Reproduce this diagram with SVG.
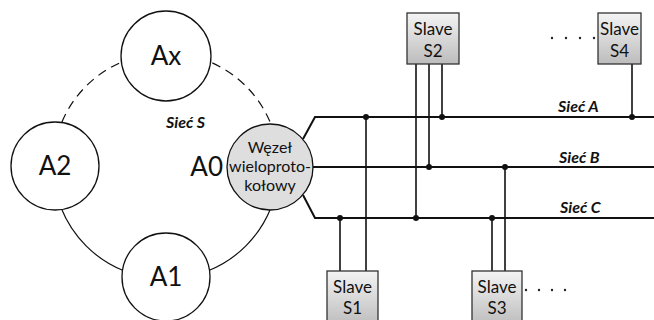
<svg xmlns="http://www.w3.org/2000/svg" width="654" height="320" viewBox="0 0 654 320">
  <defs>
    <linearGradient id="boxFill" x1="0" y1="0" x2="0" y2="1">
      <stop offset="0" stop-color="#f4f4f4"/>
      <stop offset="1" stop-color="#bcbcbc"/>
    </linearGradient>
  </defs>
  <style>
    text { font-family: Lato, "Liberation Sans", sans-serif; fill: #111; }
    .node { fill: #fff; stroke: #111; stroke-width: 1.3; }
    .hub { fill: #dedede; stroke: #111; stroke-width: 1.3; }
    .big { font-size: 26px; text-anchor: middle; }
    .hubtxt { font-size: 16px; text-anchor: middle; }
    .net { font-size: 16px; font-weight: bold; font-style: italic; }
    .box { fill: url(#boxFill); stroke: #333; stroke-width: 1.3; }
    .slave { font-size: 17px; text-anchor: middle; }
    .bus { fill: none; stroke: #111; stroke-width: 2; }
    .tap { fill: none; stroke: #111; stroke-width: 1.6; }
    .ring { fill: none; stroke: #111; stroke-width: 1.2; }
    .dot { fill: #111; }
    .ell { fill: #222; }
  </style>

  <!-- ring network S and bus connections -->
  <g id="connectors">
    <path class="ring" stroke-dasharray="9 6" d="M 53 166 A 113 113 0 0 1 279 166"/>
    <path class="ring" d="M 53 166 A 113 113 0 0 0 279 166"/>

    <!-- buses A, B, C leaving the gateway -->
    <polyline class="bus" points="303,139 315,117 654,117"/>
    <polyline class="bus" points="312,167 654,167"/>
    <polyline class="bus" points="303,195 315,218 654,218"/>

    <!-- slave taps -->
    <line class="tap" x1="366" y1="117" x2="366" y2="271"/>
    <line class="tap" x1="340" y1="218" x2="340" y2="271"/>
    <line class="tap" x1="416" y1="64" x2="416" y2="218"/>
    <line class="tap" x1="429" y1="64" x2="429" y2="167"/>
    <line class="tap" x1="442" y1="64" x2="442" y2="117"/>
    <line class="tap" x1="632" y1="64" x2="632" y2="117"/>
    <line class="tap" x1="492" y1="218" x2="492" y2="271"/>
    <line class="tap" x1="505" y1="167" x2="505" y2="271"/>

    <circle class="dot" cx="366" cy="117" r="3"/>
    <circle class="dot" cx="442" cy="117" r="3"/>
    <circle class="dot" cx="632" cy="117" r="3"/>
    <circle class="dot" cx="429" cy="167" r="3"/>
    <circle class="dot" cx="505" cy="167" r="3"/>
    <circle class="dot" cx="340" cy="218" r="3"/>
    <circle class="dot" cx="416" cy="218" r="3"/>
    <circle class="dot" cx="492" cy="218" r="3"/>
  </g>

  <!-- network labels -->
  <text class="net" x="166" y="128">Sieć S</text>
  <text class="net" x="558" y="112">Sieć A</text>
  <text class="net" x="559" y="163">Sieć B</text>
  <text class="net" x="560" y="213">Sieć C</text>

  <!-- ring nodes -->
  <g id="node-ax">
    <circle class="node" cx="166" cy="56" r="45"/>
    <text class="big" x="166" y="65">Ax</text>
  </g>
  <g id="node-a2">
    <circle class="node" cx="55" cy="166" r="44"/>
    <text class="big" x="55" y="175">A2</text>
  </g>
  <g id="node-a1">
    <circle class="node" cx="166" cy="277" r="44"/>
    <text class="big" x="166" y="286">A1</text>
  </g>
  <g id="node-a0">
    <circle class="hub" cx="270" cy="167" r="43"/>
    <text class="big" x="223" y="176" style="text-anchor:end">A0</text>
    <text class="hubtxt" x="270" y="153">Węzeł</text>
    <text class="hubtxt" x="270" y="172">wieloproto-</text>
    <text class="hubtxt" x="270" y="191">kołowy</text>
  </g>

  <!-- slaves -->
  <g id="slave-s2">
    <rect class="box" x="407" y="13" width="52" height="51"/>
    <text class="slave" x="433" y="35">Slave</text>
    <text class="slave" x="433" y="57">S2</text>
  </g>
  <g id="slave-s4">
    <rect class="box" x="598" y="13" width="43" height="51"/>
    <text class="slave" x="619.5" y="35">Slave</text>
    <text class="slave" x="619.5" y="57">S4</text>
  </g>
  <g id="slave-s1">
    <rect class="box" x="327" y="271" width="51" height="55"/>
    <text class="slave" x="352.5" y="293">Slave</text>
    <text class="slave" x="352.5" y="314">S1</text>
  </g>
  <g id="slave-s3">
    <rect class="box" x="472" y="271" width="50" height="55"/>
    <text class="slave" x="497" y="293">Slave</text>
    <text class="slave" x="497" y="314">S3</text>
  </g>

  <!-- continuation dots -->
  <g id="more-top">
    <circle class="ell" cx="552" cy="38" r="1.2"/>
    <circle class="ell" cx="566" cy="38" r="1.2"/>
    <circle class="ell" cx="580" cy="38" r="1.2"/>
    <circle class="ell" cx="594" cy="38" r="1.2"/>
  </g>
  <g id="more-bottom">
    <circle class="ell" cx="526" cy="290" r="1.2"/>
    <circle class="ell" cx="539" cy="290" r="1.2"/>
    <circle class="ell" cx="552" cy="290" r="1.2"/>
    <circle class="ell" cx="565" cy="290" r="1.2"/>
  </g>
</svg>
